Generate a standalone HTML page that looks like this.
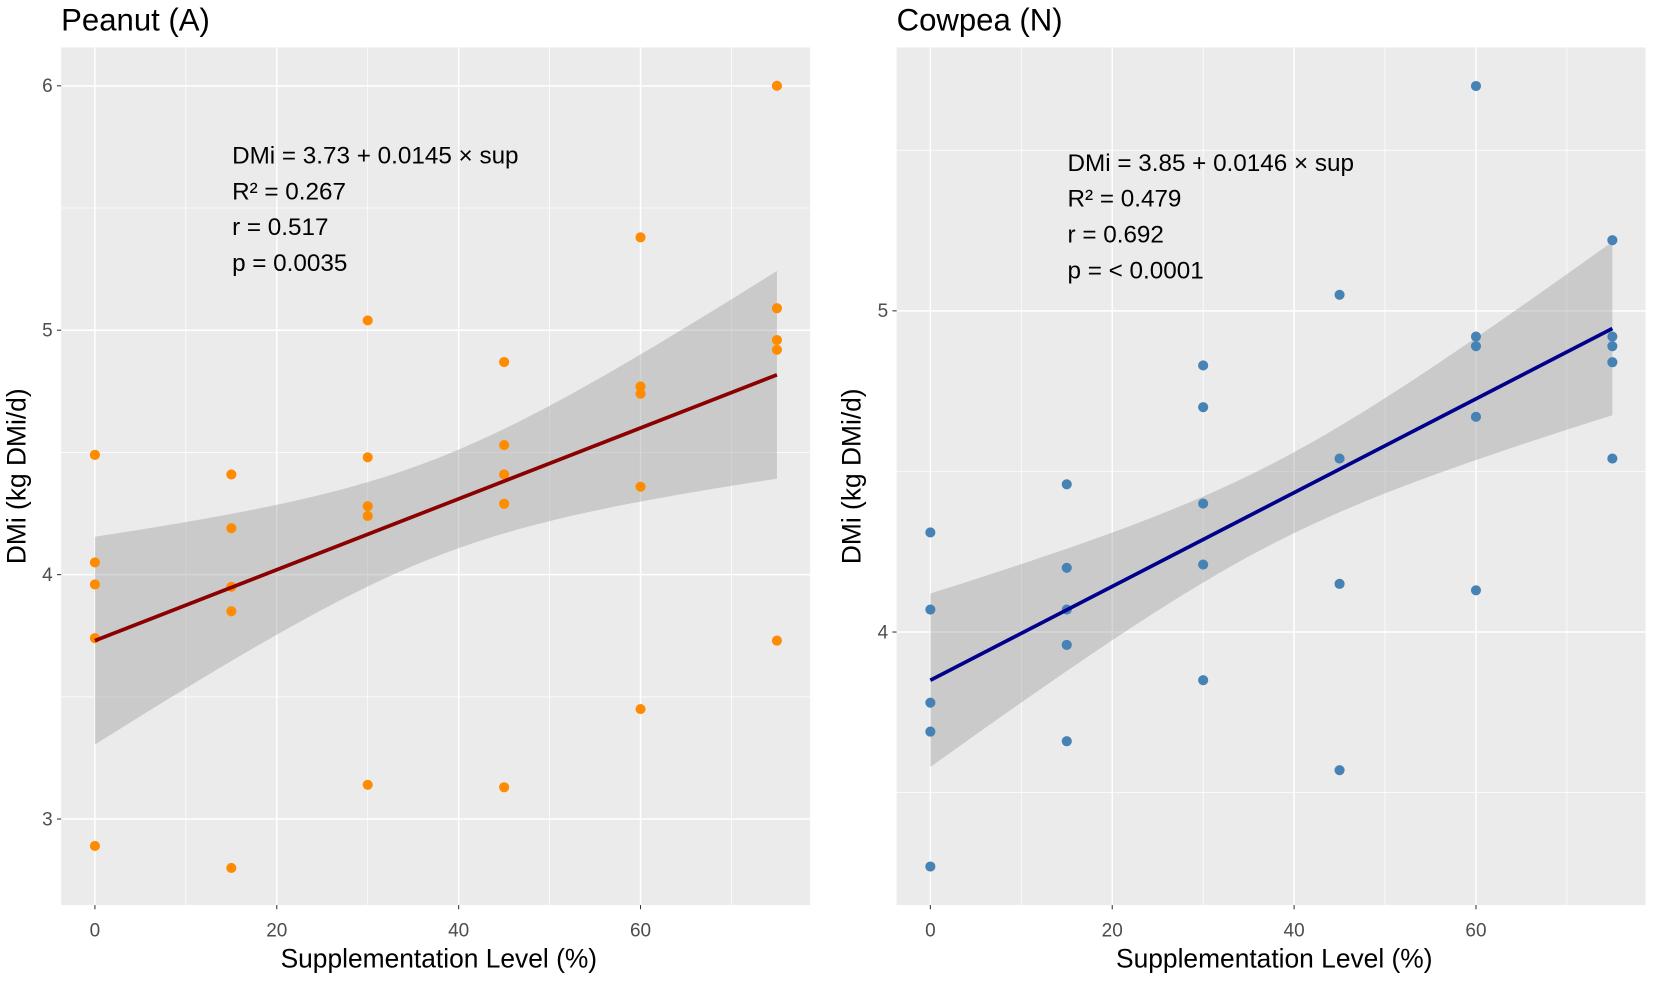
<!DOCTYPE html>
<html><head><meta charset="utf-8"><style>
html,body{margin:0;padding:0;background:#fff;}
svg{display:block;font-family:"Liberation Sans",Arial,sans-serif;}
</style></head><body>
<svg id="chart" width="1654" height="981" viewBox="0 0 1568 930" preserveAspectRatio="none" xmlns="http://www.w3.org/2000/svg"></svg>
<script>
const xLevels = [0,15,30,45,60,75];
const peanutY = [[4.49,4.05,3.96,3.74,2.89],[4.41,4.19,3.95,3.85,2.80],[5.04,4.48,4.28,4.24,3.14],[4.87,4.53,4.41,4.29,3.13],[5.38,4.77,4.74,4.36,3.45],[6.0,5.09,4.96,4.92,3.73]];
const cowpeaY = [[4.31,4.07,3.78,3.69,3.27],[4.46,4.20,4.07,3.96,3.66],[4.83,4.70,4.40,4.21,3.85],[5.05,4.54,4.15,3.57],[5.70,4.92,4.89,4.67,4.13],[5.22,4.92,4.89,4.84,4.54]];
const intercepts = [3.73,3.85];
const slopes = [0.0145,0.0146];
const bandEnd = [0.425,0.27];
const bandMid = [0.2,0.125];
const xTicks = [0,20,40,60];
const peanutYTicks = [3,4,5,6];
const cowpeaYTicks = [4,5];
const titles = ["Peanut (A)","Cowpea (N)"];
const annots = [["DMi = 3.73 + 0.0145 × sup","R² = 0.267","r = 0.517","p = 0.0035"],["DMi = 3.85 + 0.0146 × sup","R² = 0.479","r = 0.692","p = < 0.0001"]];

const NS="http://www.w3.org/2000/svg";
const svg=document.getElementById('chart');
function mk(tag,attrs,parent,text){const e=document.createElementNS(NS,tag);for(const k in attrs)e.setAttribute(k,attrs[k]);if(text!==undefined)e.textContent=text;(parent||svg).appendChild(e);return e;}

const panels=[
 {x0:58,x1:768,y0:45,y1:858,ymin:2.648,ymax:6.157,data:peanutY,yt:peanutYTicks,pt:"#FF8C00",ln:"#8B0000",name:"peanut"},
 {x0:850,x1:1560,y0:45,y1:858,ymin:3.15,ymax:5.82,data:cowpeaY,yt:cowpeaYTicks,pt:"#4682B4",ln:"#00008B",name:"cowpea"}
];
const xmin=-3.71,xmax=78.65;
panels.forEach((p,i)=>{
 const sx=v=>p.x0+(v-xmin)/(xmax-xmin)*(p.x1-p.x0);
 const sy=v=>p.y1-(v-p.ymin)/(p.ymax-p.ymin)*(p.y1-p.y0);
 const g=mk('g',{},svg);
 
 
 const bg=mk('rect',{x:p.x0,y:p.y0,width:p.x1-p.x0,height:p.y1-p.y0,fill:'#EBEBEB'},g);
 
 
 for(let m=10;m<xmax;m+=20){mk('line',{x1:sx(m),x2:sx(m),y1:p.y0,y2:p.y1,stroke:'#fff','stroke-width':0.7},g);}
 for(let v=Math.ceil(p.ymin*2)/2;v<p.ymax;v+=0.5){if(Math.abs(v-Math.round(v))>0.01)mk('line',{x1:p.x0,x2:p.x1,y1:sy(v),y2:sy(v),stroke:'#fff','stroke-width':0.7},g);}
 xTicks.forEach(t=>{mk('line',{x1:sx(t),x2:sx(t),y1:p.y0,y2:p.y1,stroke:'#fff','stroke-width':1.4},g);
  mk('line',{x1:sx(t),x2:sx(t),y1:p.y1,y2:p.y1+4,stroke:'#333','stroke-width':1},g);
  const tl=mk('text',{x:sx(t),y:p.y1+30,'text-anchor':'middle','font-size':18,fill:'#4D4D4D'},g,t);
  
  });
 p.yt.forEach(t=>{mk('line',{x1:p.x0,x2:p.x1,y1:sy(t),y2:sy(t),stroke:'#fff','stroke-width':1.4},g);
  mk('line',{x1:p.x0-4,x2:p.x0,y1:sy(t),y2:sy(t),stroke:'#333','stroke-width':1},g);
  const tl=mk('text',{x:p.x0-8,y:sy(t)+6,'text-anchor':'end','font-size':18,fill:'#4D4D4D'},g,t);
  
  });
 const a=intercepts[i],b=slopes[i],xc=37.5;
 const k=(bandEnd[i]**2-bandMid[i]**2)/(xc*xc);
 let up=[],lo=[];
 for(let x=0;x<=75;x+=1.5){const h=Math.sqrt(bandMid[i]**2+k*(x-xc)**2);const yh=a+b*x;up.push(sx(x)+','+sy(yh+h));lo.unshift(sx(x)+','+sy(yh-h));}
 const band=mk('polygon',{points:up.concat(lo).join(' '),fill:'#999','fill-opacity':0.4},g);
 
 
 p.data.forEach((arr,j)=>arr.forEach(v=>{const c=mk('circle',{cx:sx(xLevels[j]),cy:sy(v),r:4.8,fill:p.pt},g);
  
  }));
 const ln=mk('line',{x1:sx(0),y1:sy(a),x2:sx(75),y2:sy(a+b*75),stroke:p.ln,'stroke-width':3.5},g);
 
 
 const ti=mk('text',{x:p.x0,y:29,'font-size':29.5,fill:'#000'},g,titles[i]);
 
 
 const xt=mk('text',{x:(p.x0+p.x1)/2+3,y:917,'text-anchor':'middle','font-size':25,fill:'#000'},g,'Supplementation Level (%)');
 
 
 const yty=(p.y0+p.y1)/2, ytx=p.x0-34;
 const yt=mk('text',{x:ytx,y:yty,'text-anchor':'middle','font-size':25,fill:'#000',transform:`rotate(-90 ${ytx} ${yty})`},g,'DMi (kg DMi/d)');
 
 
 const ax=i===0?220:1012, ay=i===0?155:162;
 annots[i].forEach((s,m)=>{const t=mk('text',{x:ax,y:ay+m*34,'font-size':23,fill:'#000'},g,s);
  
  });
});
</script>
</body></html>
